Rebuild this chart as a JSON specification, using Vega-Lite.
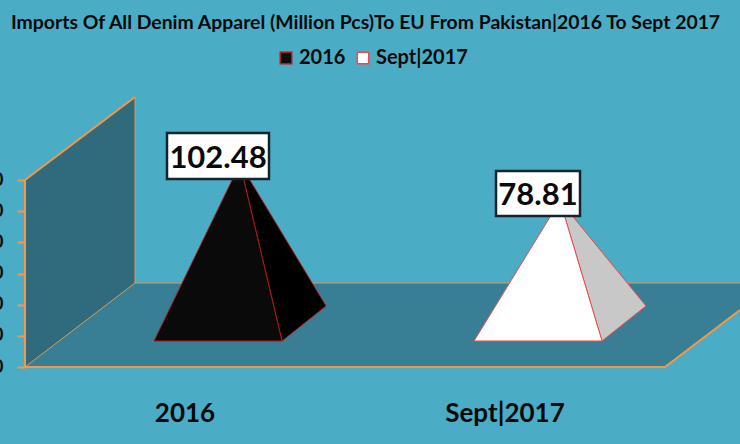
{
"$schema":"https://vega.github.io/schema/vega-lite/v6.json",
"width":740,"height":444,"padding":0,"autosize":"none","background":"#4bacc6",
"config":{"view":{"stroke":null}},
"title":{"text":"Imports Of All Denim Apparel (Million Pcs)To EU From Pakistan|2016 To Sept 2017","anchor":"start","frame":"group","dx":11,"dy":37,"font":"Lato","fontWeight":"bold","fontSize":19.4,"color":"#0a0a0a"},
"datasets":{
"wall":[{"x":25,"v":0,"v2":120},{"x":135,"v":53.9,"v2":173.3}],
"floor":[{"x":25,"v":0,"v2":0},{"x":135,"v":53.9,"v2":0},{"x":665,"v":53.9,"v2":0},{"x":740,"v":53.9,"v2":36.6}],
"thin":[{"edge":"a","x":135,"v":53.9},{"edge":"a","x":135,"v":173.3},{"edge":"b","x":25,"v":0},{"edge":"b","x":135,"v":53.9},{"edge":"c","x":135,"v":53.9},{"edge":"c","x":740,"v":53.9}],
"thick":[{"edge":"d","x":25,"v":0},{"edge":"d","x":25,"v":120},{"edge":"e","x":25,"v":120},{"edge":"e","x":135,"v":173.3},{"edge":"f","x":25,"v":0},{"edge":"f","x":665,"v":0},{"edge":"f","x":740,"v":36.6}],
"front":[{"series":"2016","x":154,"v":16.7,"v2":16.7},{"series":"2016","x":240,"v":130.4,"v2":16.7},{"series":"2016","x":282,"v":16.7,"v2":16.7},{"series":"Sept|2017","x":474,"v":16.7,"v2":16.7},{"series":"Sept|2017","x":560,"v":106.7,"v2":16.7},{"series":"Sept|2017","x":602,"v":16.7,"v2":16.7}],
"side":[{"series":"2016","x":240,"v":130.4,"v2":130.4},{"series":"2016","x":282,"v":85.9,"v2":16.7},{"series":"2016","x":326,"v":39.2,"v2":39.2},{"series":"Sept|2017","x":560,"v":106.7,"v2":106.7},{"series":"Sept|2017","x":602,"v":73.7,"v2":16.7},{"series":"Sept|2017","x":646,"v":39.2,"v2":39.2}],
"boxes":[{"series":"2016","value":102.48,"x":167,"x2":269,"v":150.2,"v2":120.7,"mid":133.8,"cx":218},{"series":"Sept|2017","value":78.81,"x":496,"x2":580,"v":125.8,"v2":96.9,"mid":109.5,"cx":538}],
"cats":[{"series":"2016","x":185,"v":-30},{"series":"Sept|2017","x":505,"v":-30}]
},
"encoding":{
"x":{"field":"x","type":"quantitative","scale":{"domain":[0,740],"nice":false,"zero":false},"axis":null},
"y":{"field":"v","type":"quantitative","scale":{"domain":[-49.42,235.56],"nice":false,"zero":false},"axis":{"title":null,"orient":"left","offset":-25,"values":[0,20,40,60,80,100,120],"domain":false,"grid":false,"ticks":true,"tickSize":8,"tickWidth":2,"tickColor":"#f79646","labelPadding":14,"labelFont":"Lato","labelFontWeight":"bold","labelFontSize":18,"labelColor":"#0a0a0a"}}
},
"layer":[
{"data":{"name":"wall"},"mark":{"type":"area","fill":"#2f6b7d"},"encoding":{"y2":{"field":"v2"}}},
{"data":{"name":"floor"},"mark":{"type":"area","fill":"#387f95"},"encoding":{"y2":{"field":"v2"}}},
{"data":{"name":"thin"},"mark":{"type":"line","stroke":"#d9975a","strokeWidth":1},"encoding":{"detail":{"field":"edge"}}},
{"data":{"name":"thick"},"mark":{"type":"line","stroke":"#f79646","strokeWidth":2},"encoding":{"detail":{"field":"edge"}}},
{"data":{"name":"side"},"transform":[{"filter":"datum.series==='2016'"}],"mark":{"type":"area","fill":"#000000","stroke":"#b01818","strokeWidth":1},"encoding":{"y2":{"field":"v2"}}},
{"data":{"name":"side"},"transform":[{"filter":"datum.series!=='2016'"}],"mark":{"type":"area","fill":"#c8c8c8","stroke":"#ec4a4a","strokeWidth":1},"encoding":{"y2":{"field":"v2"}}},
{"data":{"name":"front"},"mark":{"type":"area","strokeWidth":1},"encoding":{"y2":{"field":"v2"},
"fill":{"field":"series","type":"nominal","scale":{"domain":["2016","Sept|2017"],"range":["#0a0a0a","#ffffff"]},"legend":{"title":null,"orient":"none","legendX":276,"legendY":48,"direction":"horizontal","columns":2,"symbolType":"square","symbolSize":130,"symbolStrokeWidth":1.5,"labelFont":"Lato","labelFontWeight":"bold","labelFontSize":20,"labelColor":"#0a0a0a","labelOffset":3,"columnPadding":7}},
"stroke":{"field":"series","type":"nominal","scale":{"domain":["2016","Sept|2017"],"range":["#b01818","#ec4a4a"]},"legend":{"title":null,"orient":"none","legendX":276,"legendY":48,"direction":"horizontal","columns":2,"symbolType":"square","symbolSize":130,"symbolStrokeWidth":1.5,"labelFont":"Lato","labelFontWeight":"bold","labelFontSize":20,"labelColor":"#0a0a0a","labelOffset":3,"columnPadding":7}}}},
{"data":{"name":"boxes"},"mark":{"type":"rect","fill":"#ffffff","stroke":"#12242c","strokeWidth":2.5},"encoding":{"x2":{"field":"x2"},"y2":{"field":"v2"}}},
{"data":{"name":"boxes"},"mark":{"type":"text","font":"Lato","fontWeight":"bold","fontSize":31,"color":"#0a0a0a","align":"center","baseline":"middle"},"encoding":{"x":{"field":"cx","type":"quantitative"},"y":{"field":"mid","type":"quantitative"},"text":{"field":"value","type":"quantitative","format":".2f"}}},
{"data":{"name":"cats"},"mark":{"type":"text","font":"Lato","fontWeight":"bold","fontSize":26,"color":"#0a0a0a","align":"center","baseline":"middle"},"encoding":{"text":{"field":"series","type":"nominal"}}}
]
}
